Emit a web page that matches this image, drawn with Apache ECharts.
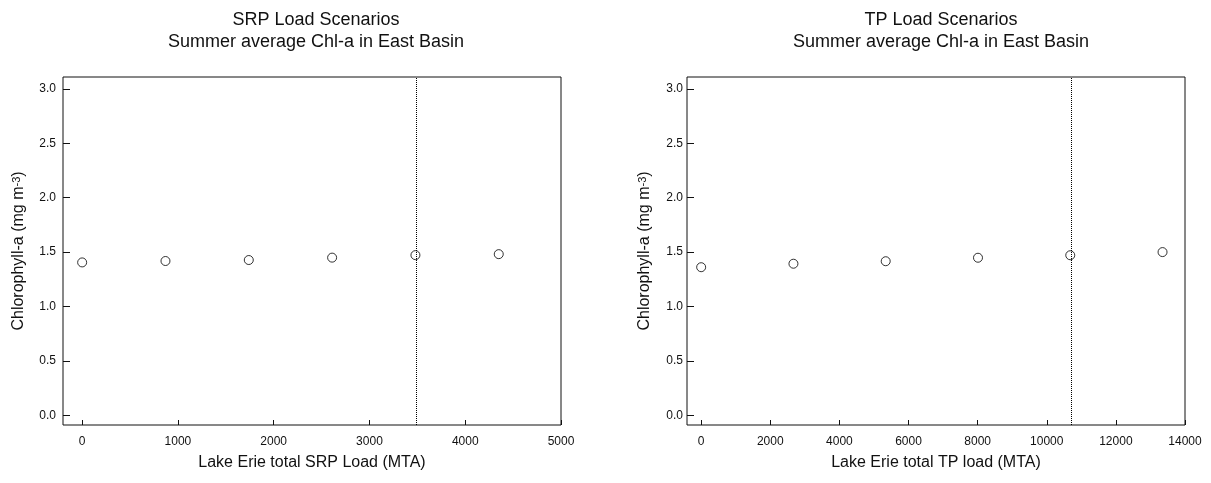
<!DOCTYPE html>
<html>
<head>
<meta charset="utf-8">
<script src="https://cdn.jsdelivr.net/npm/echarts@6/dist/echarts.min.js"></script>
<style>
html,body{margin:0;padding:0;background:#fff;}
#c{width:1211px;height:483px;}
</style>
</head>
<body>
<div id="c"></div>
<script>
// ---- data ----
var srpLoad = [0, 870, 1740, 2610, 3480, 4350];
var srpChl  = [1.405, 1.418, 1.427, 1.449, 1.472, 1.481];
var tpLoad  = [0, 2670, 5340, 8010, 10680, 13350];
var tpChl   = [1.361, 1.393, 1.416, 1.448, 1.471, 1.500];
var srpRef = 3490;
var tpRef = 10700;
var yTicks = [0, 0.5, 1.0, 1.5, 2.0, 2.5, 3.0];
var srpTicks = [0, 1000, 2000, 3000, 4000, 5000];
var tpTicks = [0, 2000, 4000, 6000, 8000, 10000, 12000, 14000];
var titles = ['SRP Load Scenarios\nSummer average Chl-a in East Basin',
              'TP Load Scenarios\nSummer average Chl-a in East Basin'];
var xNames = ['Lake Erie total SRP Load (MTA)', 'Lake Erie total TP load (MTA)'];

var FONT = "'Liberation Sans', Arial, sans-serif";
var INK = '#111';

function pairs(xs, ys) { return xs.map(function (x, i) { return [x, ys[i]]; }); }

function xAxis(idx, min, max, ticks) {
  return {
    type: 'value', gridIndex: idx, min: min, max: max,
    name: xNames[idx], nameLocation: 'middle', nameGap: 30,
    nameTextStyle: { fontFamily: FONT, fontSize: 16, color: INK },
    axisLine: { show: false, onZero: false },
    axisTick: { show: true, inside: true, length: 5, customValues: ticks, lineStyle: { color: INK } },
    axisLabel: { show: true, customValues: ticks, margin: 11, fontFamily: FONT, fontSize: 12, color: INK,
      formatter: function (v) { return String(Math.round(v)); } },
    splitLine: { show: false }
  };
}
function yAxis(idx, margin, gap) {
  return {
    type: 'value', gridIndex: idx, min: -0.09, max: 3.11,
    name: '{a|Chlorophyll-a (mg m}{s|-3}{a|)}', nameLocation: 'middle', nameGap: gap, nameRotate: 90,
    nameTextStyle: { fontFamily: FONT, fontSize: 16, color: INK,
      rich: { a: { fontFamily: FONT, fontSize: 16, color: INK },
              s: { fontFamily: FONT, fontSize: 11, color: INK, verticalAlign: 'top', padding: [0, 0, 5, 0] } } },
    axisLine: { show: false, onZero: false },
    axisTick: { show: true, inside: true, length: 7, customValues: yTicks, lineStyle: { color: INK } },
    axisLabel: { show: true, customValues: yTicks, margin: margin, fontFamily: FONT, fontSize: 12, color: INK,
      formatter: function (v) { return Number(v).toFixed(1); } },
    splitLine: { show: false }
  };
}
function series(idx, xs, ys, ref) {
  return {
    type: 'scatter', xAxisIndex: idx, yAxisIndex: idx,
    data: pairs(xs, ys), symbol: 'circle', symbolSize: 9,
    itemStyle: { color: 'rgba(255,255,255,0)', borderColor: '#000', borderWidth: 1 },
    emphasis: { disabled: true },
    markLine: {
      silent: true, symbol: ['none', 'none'], label: { show: false },
      lineStyle: { type: 'dotted', color: '#000', width: 1 },
      data: [{ xAxis: ref }]
    }
  };
}

var chart = echarts.init(document.getElementById('c'), null, { renderer: 'canvas' });
chart.setOption({
  animation: false,
  backgroundColor: '#fff',
  title: [
    { text: titles[0], left: 311, top: 4, textAlign: 'center',
      textStyle: { fontFamily: FONT, fontSize: 18, fontWeight: 'normal', color: INK, lineHeight: 22 } },
    { text: titles[1], left: 936, top: 4, textAlign: 'center',
      textStyle: { fontFamily: FONT, fontSize: 18, fontWeight: 'normal', color: INK, lineHeight: 22 } }
  ],
  grid: [
    { left: 63, right: 650, top: 77, bottom: 58, show: true, borderColor: INK, borderWidth: 1, backgroundColor: 'transparent', containLabel: false },
    { left: 687, right: 26, top: 77, bottom: 58, show: true, borderColor: INK, borderWidth: 1, backgroundColor: 'transparent', containLabel: false }
  ],
  xAxis: [xAxis(0, -200, 5000, srpTicks), xAxis(1, -410, 14000, tpTicks)],
  yAxis: [yAxis(0, 7, 36), yAxis(1, 4, 34)],
  series: [series(0, srpLoad, srpChl, srpRef), series(1, tpLoad, tpChl, tpRef)]
});
</script>
</body>
</html>
